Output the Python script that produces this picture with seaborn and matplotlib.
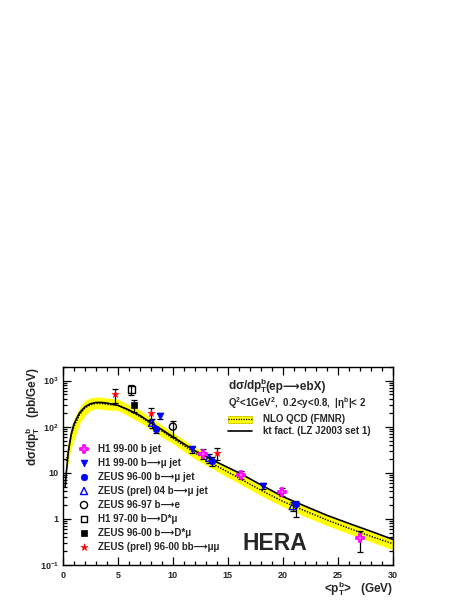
import numpy as np
import pandas as pd
import matplotlib
matplotlib.use("Agg")
import matplotlib.pyplot as plt
import seaborn as sns
from matplotlib.ticker import FixedLocator, FixedFormatter, LogLocator, MultipleLocator, NullFormatter
from matplotlib.lines import Line2D
from matplotlib.patches import Rectangle

# ---------------- data ----------------
# kt factorisation (LZ J2003 set 1)
kt_x = [0.2, 0.3, 0.5, 0.75, 1.0, 1.5, 2.0, 2.5, 3.0, 3.5, 4.0, 5.0, 6.0, 7.0, 8.0, 9.0, 10, 12, 14, 16, 18, 20, 22, 24, 26, 28, 30]
kt_y = [5, 10, 30, 70, 115, 200, 270, 315, 335, 335, 325, 290, 230, 175, 122, 86, 60, 30, 17, 10, 5.5, 3.05, 1.9, 1.2, 0.8, 0.54, 0.36]

# NLO QCD (FMNR) central value and uncertainty band
nlo_x = [0.3, 0.5, 0.75, 1.0, 1.5, 2.0, 2.5, 3.0, 3.5, 4.0, 5.0, 6.0, 7.0, 8.0, 9.0, 10, 12, 14, 16, 18, 20, 22, 24, 26, 28, 30]
nlo_c = [18, 32, 65, 100, 180, 255, 300, 320, 318, 305, 290, 222, 166, 114, 80, 56, 27, 14, 7.7, 4.2, 2.4, 1.5, 0.95, 0.63, 0.42, 0.29]
nlo_lo = [10, 18, 35, 50, 117, 175, 225, 245, 240, 230, 225, 168, 124, 86, 60, 43, 20, 10.8, 5.9, 3.2, 1.85, 1.13, 0.72, 0.48, 0.32, 0.215]
nlo_hi = [28, 50, 100, 150, 260, 370, 425, 440, 435, 420, 395, 300, 230, 155, 108, 74, 36, 18, 10, 5.5, 3.05, 1.9, 1.2, 0.8, 0.545, 0.36]

# Measurements: x, y, lower error, upper error
h1_bjet_x = [12.7, 16.2, 19.9, 27.0]
h1_bjet_y = [26, 8.9, 3.9, 0.38]
h1_bjet_el = [6, 1.7, 0.7, 0.19]
h1_bjet_eh = [7, 2.0, 0.8, 0.18]

h1_bmu_x = [8.8, 11.7, 18.2]
h1_bmu_y = [170, 32, 5.2]
h1_bmu_el = [25, 5, 0.8]
h1_bmu_eh = [25, 5, 0.8]

zeus_bmu_x = [8.5, 13.6, 21.2]
zeus_bmu_y = [88, 18, 2.1]
zeus_bmu_el = [15, 4, 1.0]
zeus_bmu_eh = [12, 4, 0.35]

zeus04_bmu_x = [8.1, 13.3, 20.9]
zeus04_bmu_y = [122, 21, 1.9]
zeus04_bmu_el = [30, 5, 0.4]
zeus04_bmu_eh = [25, 5, 0.4]

zeus_be_x = [10.0]
zeus_be_y = [100]
zeus_be_el = [40]
zeus_be_eh = [30]

h1_dmu_x = [6.2]
h1_dmu_y = [640]
h1_dmu_el = [165]
h1_dmu_eh = [160]

zeus_dmu_x = [6.5]
zeus_dmu_y = [290]
zeus_dmu_el = [80]
zeus_dmu_eh = [80]

zeus_mumu_x = [4.7, 8.0, 14.0]
zeus_mumu_y = [500, 200, 27]
zeus_mumu_el = [170, 60, 8]
zeus_mumu_eh = [160, 50, 7]

ARROW = "\u27f6"
legend_labels = [
    "H1 99-00 b jet",
    "H1 99-00 b" + ARROW + "\u03bc jet",
    "ZEUS 96-00 b" + ARROW + "\u03bc jet",
    "ZEUS (prel) 04 b" + ARROW + "\u03bc jet",
    "ZEUS 96-97 b" + ARROW + "e",
    "H1 97-00 b" + ARROW + "D*\u03bc",
    "ZEUS 96-00 b" + ARROW + "D*\u03bc",
    "ZEUS (prel) 96-00 bb" + ARROW + "\u03bc\u03bc",
]

x_ticks = [0, 5, 10, 15, 20, 25, 30]
y_ticks = [0.1, 1, 10, 100, 1000]
y_ticklabels = [r"10$^{-1}$", "1", "10", r"10$^{2}$", r"10$^{3}$"]

# ---------------- style ----------------
sns.set_style("ticks")
plt.rcParams["font.family"] = ["Liberation Sans", "DejaVu Sans"]
plt.rcParams["font.weight"] = "bold"
plt.rcParams["mathtext.fontset"] = "custom"
plt.rcParams["mathtext.rm"] = "Liberation Sans:bold"
plt.rcParams["mathtext.bf"] = "Liberation Sans:bold"
plt.rcParams["mathtext.it"] = "Liberation Sans:bold"
plt.rcParams["mathtext.default"] = "rm"

fig = plt.figure(figsize=(4.71, 6.09), dpi=100)
fig.patch.set_facecolor("white")
ax = fig.add_axes([63 / 471, 44 / 609, 329.7 / 471, 198.3 / 609])
ax.set_facecolor("white")

# band
ax.fill_between(nlo_x, nlo_lo, nlo_hi, color="#ffff00", lw=0, zorder=1)
sns.lineplot(x=nlo_x, y=nlo_c, ax=ax, color="black", lw=1.0, linestyle=(0, (1, 1)), zorder=2)
sns.lineplot(x=kt_x, y=kt_y, ax=ax, color="black", lw=1.2, zorder=3)

series = [
    (h1_bjet_x, h1_bjet_y, h1_bjet_el, h1_bjet_eh, dict(marker="P", facecolor="white", edgecolor="#ff00ff", s=30, linewidth=1.3)),
    (h1_bmu_x, h1_bmu_y, h1_bmu_el, h1_bmu_eh, dict(marker="v", color="#0000ff", edgecolor="#0000ff", s=24, linewidth=0.5)),
    (zeus_bmu_x, zeus_bmu_y, zeus_bmu_el, zeus_bmu_eh, dict(marker="o", color="#0000ff", edgecolor="#0000ff", s=22, linewidth=0.5)),
    (zeus04_bmu_x, zeus04_bmu_y, zeus04_bmu_el, zeus04_bmu_eh, dict(marker="^", facecolor="none", edgecolor="#0000ff", s=26, linewidth=1.0)),
    (zeus_be_x, zeus_be_y, zeus_be_el, zeus_be_eh, dict(marker="o", facecolor="none", edgecolor="black", s=26, linewidth=1.0)),
    (h1_dmu_x, h1_dmu_y, h1_dmu_el, h1_dmu_eh, dict(marker="s", facecolor="none", edgecolor="black", s=24, linewidth=1.0)),
    (zeus_dmu_x, zeus_dmu_y, zeus_dmu_el, zeus_dmu_eh, dict(marker="s", color="black", edgecolor="black", s=22, linewidth=0.5)),
    (zeus_mumu_x, zeus_mumu_y, zeus_mumu_el, zeus_mumu_eh, dict(marker="*", color="#ff0000", edgecolor="#ff0000", s=30, linewidth=0.3)),
]

for xs, ys, el, eh, kw in series:
    ax.errorbar(xs, ys, yerr=[el, eh], fmt="none", ecolor="black", elinewidth=0.9, capsize=2, capthick=0.9, zorder=4)
    sns.scatterplot(x=xs, y=ys, ax=ax, zorder=5, legend=False, **kw)

ax.set_yscale("log")
ax.set_xlim(0, 30)
ax.set_ylim(0.1, 2000)
ax.xaxis.set_major_locator(FixedLocator(x_ticks))
ax.xaxis.set_minor_locator(MultipleLocator(1))
ax.yaxis.set_major_locator(FixedLocator(y_ticks))
ax.yaxis.set_major_formatter(FixedFormatter(y_ticklabels))
ax.yaxis.set_minor_locator(LogLocator(base=10, subs=np.arange(2, 10)))
ax.yaxis.set_minor_formatter(NullFormatter())
ax.tick_params(which="both", direction="in", top=True, right=True, labelsize=6.5, width=0.9, color="black")
ax.tick_params(axis="x", pad=4)
ax.tick_params(axis="y", pad=3)
ax.tick_params(which="major", length=6)
ax.tick_params(which="minor", length=3)
for lab in ax.get_xticklabels() + ax.get_yticklabels():
    lab.set_fontweight("bold")
for sp in ax.spines.values():
    sp.set_linewidth(1.0)
    sp.set_color("black")
ax.set_xlabel("")
ax.set_ylabel("")

# axis titles
fig.text(33 / 471, (609 - 367) / 609, "d\u03c3/dp$_{T}^{b}$   (pb/GeV)", rotation=90,
         ha="center", va="top", fontsize=8.5, fontweight="bold")
fig.text(392.7 / 471, (609 - 589) / 609, "<p$_{T}^{b}$>   (GeV)", ha="right", va="center",
         fontsize=8.5, fontweight="bold")

# left legend
leg_styles = [s[4] for s in series]
for i, (lab, kw) in enumerate(zip(legend_labels, leg_styles)):
    yy = 0.585 - i * 0.0706
    mk = kw["marker"]
    fc = kw.get("facecolor", kw.get("color"))
    ec = kw.get("edgecolor")
    ax.scatter([0.0637], [yy], transform=ax.transAxes, marker=mk, s=kw["s"], facecolor=fc,
               edgecolor=ec, linewidth=kw["linewidth"], zorder=6, clip_on=False)
    ax.text(0.107, yy, lab, transform=ax.transAxes, ha="left", va="center", fontsize=7, fontweight="bold")

# right legend / annotations (title in two pieces so the long arrow uses plain text fallback)
yb = 0.883
t1 = ax.text(0.501, yb, "d\u03c3/dp$_{T}^{b}$", transform=ax.transAxes, ha="left", va="baseline",
             fontsize=8.5, fontweight="bold")
fig.canvas.draw()
bb = t1.get_window_extent()
x_end = ax.transAxes.inverted().transform((bb.x1 - 2.5, bb.y0))[0]
ax.text(x_end, yb, "(ep" + ARROW + "ebX)", transform=ax.transAxes, ha="left", va="baseline",
        fontsize=8.5, fontweight="bold")

ax.text(0.501, 0.815, "Q$^{2}$<1GeV$^{2}$,  0.2<y<0.8,  |\u03b7$^{b}$|< 2", transform=ax.transAxes,
        ha="left", va="center", fontsize=7, fontweight="bold")
ax.add_patch(Rectangle((0.501, 0.735 - 0.017), 0.071, 0.034, transform=ax.transAxes,
                       facecolor="#ffff00", edgecolor="#c8c800", lw=0.6, zorder=6))
ax.add_line(Line2D([0.501, 0.572], [0.735, 0.735], transform=ax.transAxes, color="black",
                   lw=0.9, linestyle=(0, (1, 1)), zorder=7))
ax.text(0.606, 0.735, "NLO QCD (FMNR)", transform=ax.transAxes, ha="left", va="center",
        fontsize=7, fontweight="bold")
ax.add_line(Line2D([0.501, 0.572], [0.676, 0.676], transform=ax.transAxes, color="black", lw=1.2, zorder=7))
ax.text(0.606, 0.676, "kt fact. (LZ J2003 set 1)", transform=ax.transAxes, ha="left", va="center",
        fontsize=7, fontweight="bold")

ax.text(0.642, 0.109, "HERA", transform=ax.transAxes, ha="center", va="center", fontsize=16.5,
        fontweight="bold")

fig.savefig("out.png", dpi=100, facecolor="white")
